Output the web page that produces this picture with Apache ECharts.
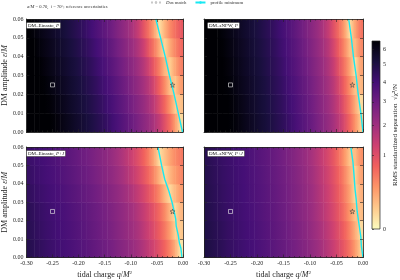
<!DOCTYPE html>
<html>
<head>
<meta charset="utf-8">
<script src="https://cdn.jsdelivr.net/npm/echarts@6/dist/echarts.min.js"></script>
<style>
  html, body { margin: 0; padding: 0; background: #fff; }
  #chart { width: 400px; height: 280px; }
</style>
</head>
<body>
<div id="chart"></div>
<script>
// cell centres of the (q, eps) grid
const qCenters = [-0.295, -0.285, -0.275, -0.265, -0.255, -0.245, -0.235, -0.225, -0.215, -0.205,
  -0.195, -0.185, -0.175, -0.165, -0.155, -0.145, -0.135, -0.125, -0.115, -0.105,
  -0.095, -0.085, -0.075, -0.065, -0.055, -0.045, -0.035, -0.025, -0.015, -0.005];
const epsCenters = [0.005, 0.015, 0.025, 0.035, 0.045, 0.055];

// RMS standardized separation, rows bottom (eps=0.005) to top (eps=0.055)
const einastoP = [
  [7.42, 7.22, 7.02, 6.82, 6.62, 6.42, 6.22, 6.02, 5.82, 5.62, 5.42, 5.22, 5.02, 4.79, 4.57, 4.33, 4.05, 3.78, 3.53, 3.26, 2.98, 2.68, 2.41, 2.13, 1.81, 1.44, 0.99, 0.63, 0.29, 0.04],
  [7.25, 7.05, 6.85, 6.65, 6.45, 6.25, 6.05, 5.85, 5.65, 5.45, 5.25, 5.05, 4.83, 4.61, 4.36, 4.09, 3.82, 3.56, 3.30, 3.02, 2.72, 2.45, 2.17, 1.86, 1.50, 1.06, 0.68, 0.34, 0.08, 0.12],
  [7.08, 6.88, 6.68, 6.48, 6.28, 6.08, 5.88, 5.68, 5.48, 5.28, 5.08, 4.86, 4.65, 4.41, 4.13, 3.86, 3.60, 3.34, 3.07, 2.77, 2.49, 2.21, 1.91, 1.58, 1.13, 0.73, 0.39, 0.12, 0.10, 0.29],
  [6.92, 6.72, 6.52, 6.32, 6.12, 5.92, 5.72, 5.52, 5.32, 5.12, 4.91, 4.68, 4.46, 4.19, 3.92, 3.65, 3.40, 3.12, 2.83, 2.55, 2.29, 1.97, 1.63, 1.22, 0.80, 0.46, 0.16, 0.07, 0.24, 0.46],
  [6.75, 6.55, 6.35, 6.15, 5.95, 5.75, 5.55, 5.35, 5.15, 4.94, 4.71, 4.49, 4.23, 3.96, 3.69, 3.43, 3.16, 2.87, 2.59, 2.30, 2.02, 1.69, 1.29, 0.86, 0.51, 0.20, 0.05, 0.21, 0.43, 0.65],
  [6.58, 6.38, 6.18, 5.98, 5.78, 5.58, 5.38, 5.18, 4.98, 4.75, 4.52, 4.27, 3.99, 3.72, 3.47, 3.20, 2.92, 2.62, 2.35, 2.07, 1.74, 1.36, 0.91, 0.56, 0.24, 0.03, 0.17, 0.40, 0.61, 0.84]
];
const snfwP = [
  [7.46, 7.26, 7.06, 6.86, 6.66, 6.46, 6.26, 6.06, 5.86, 5.66, 5.46, 5.26, 5.06, 4.83, 4.62, 4.38, 4.10, 3.82, 3.57, 3.30, 3.03, 2.74, 2.46, 2.19, 1.88, 1.52, 1.08, 0.68, 0.35, 0.09],
  [7.37, 7.17, 6.97, 6.77, 6.57, 6.37, 6.17, 5.97, 5.77, 5.57, 5.37, 5.17, 4.96, 4.73, 4.51, 4.25, 3.98, 3.71, 3.44, 3.18, 2.90, 2.61, 2.33, 2.04, 1.71, 1.33, 0.89, 0.53, 0.22, 0.04],
  [7.28, 7.08, 6.88, 6.68, 6.48, 6.28, 6.08, 5.88, 5.68, 5.48, 5.28, 5.08, 4.86, 4.63, 4.40, 4.13, 3.85, 3.60, 3.33, 3.06, 2.76, 2.48, 2.20, 1.90, 1.55, 1.12, 0.72, 0.38, 0.11, 0.16],
  [7.19, 6.99, 6.79, 6.59, 6.39, 6.19, 5.99, 5.79, 5.59, 5.39, 5.19, 4.98, 4.75, 4.53, 4.28, 4.00, 3.73, 3.46, 3.20, 2.92, 2.63, 2.36, 2.07, 1.75, 1.36, 0.92, 0.56, 0.24, 0.03, 0.25],
  [7.10, 6.90, 6.70, 6.50, 6.30, 6.10, 5.90, 5.70, 5.50, 5.30, 5.10, 4.88, 4.66, 4.43, 4.15, 3.88, 3.62, 3.36, 3.09, 2.79, 2.51, 2.23, 1.93, 1.60, 1.16, 0.76, 0.41, 0.13, 0.14, 0.40],
  [7.00, 6.80, 6.60, 6.40, 6.20, 6.00, 5.80, 5.60, 5.40, 5.20, 5.00, 4.78, 4.56, 4.31, 4.03, 3.76, 3.50, 3.24, 2.96, 2.66, 2.39, 2.11, 1.79, 1.41, 0.96, 0.60, 0.27, 0.03, 0.25, 0.55]
];
const einastoPJ = [
  [4.80, 4.65, 4.50, 4.35, 4.22, 4.12, 4.02, 3.92, 3.81, 3.70, 3.58, 3.46, 3.33, 3.20, 3.06, 2.92, 2.77, 2.62, 2.46, 2.30, 2.12, 1.92, 1.70, 1.45, 1.20, 0.95, 0.70, 0.45, 0.20, 0.02],
  [4.69, 4.54, 4.39, 4.25, 4.15, 4.05, 3.95, 3.84, 3.74, 3.62, 3.50, 3.37, 3.24, 3.10, 2.96, 2.82, 2.67, 2.51, 2.35, 2.18, 1.99, 1.78, 1.53, 1.28, 1.03, 0.78, 0.53, 0.28, 0.07, 0.09],
  [4.62, 4.47, 4.32, 4.20, 4.10, 4.00, 3.90, 3.79, 3.68, 3.56, 3.43, 3.30, 3.17, 3.03, 2.89, 2.74, 2.59, 2.42, 2.26, 2.08, 1.88, 1.65, 1.40, 1.15, 0.90, 0.65, 0.40, 0.16, 0.04, 0.15],
  [4.47, 4.32, 4.20, 4.10, 4.00, 3.90, 3.79, 3.68, 3.56, 3.43, 3.30, 3.17, 3.03, 2.89, 2.74, 2.59, 2.42, 2.26, 2.08, 1.88, 1.65, 1.40, 1.15, 0.90, 0.65, 0.40, 0.16, 0.04, 0.15, 0.29],
  [4.32, 4.20, 4.10, 4.00, 3.90, 3.79, 3.68, 3.56, 3.43, 3.30, 3.17, 3.03, 2.89, 2.74, 2.59, 2.42, 2.26, 2.08, 1.88, 1.65, 1.40, 1.15, 0.90, 0.65, 0.40, 0.16, 0.04, 0.15, 0.29, 0.42],
  [4.23, 4.13, 4.03, 3.93, 3.82, 3.71, 3.59, 3.47, 3.34, 3.21, 3.07, 2.93, 2.78, 2.64, 2.48, 2.32, 2.14, 1.94, 1.72, 1.48, 1.22, 0.98, 0.72, 0.47, 0.22, 0.03, 0.11, 0.24, 0.39, 0.51]
];
const snfwPJ = [
  [5.02, 4.87, 4.72, 4.57, 4.42, 4.30, 4.19, 4.09, 3.98, 3.88, 3.76, 3.64, 3.51, 3.38, 3.24, 3.10, 2.94, 2.78, 2.61, 2.44, 2.24, 2.05, 1.82, 1.58, 1.33, 1.08, 0.83, 0.56, 0.30, 0.08],
  [4.96, 4.81, 4.66, 4.51, 4.37, 4.26, 4.15, 4.05, 3.94, 3.83, 3.71, 3.59, 3.46, 3.33, 3.19, 3.04, 2.87, 2.71, 2.54, 2.36, 2.16, 1.96, 1.73, 1.48, 1.23, 0.98, 0.73, 0.45, 0.20, 0.04],
  [4.88, 4.73, 4.58, 4.43, 4.31, 4.20, 4.10, 4.00, 3.89, 3.77, 3.65, 3.52, 3.39, 3.26, 3.11, 2.95, 2.79, 2.63, 2.45, 2.26, 2.06, 1.84, 1.60, 1.35, 1.10, 0.85, 0.58, 0.32, 0.10, 0.13],
  [4.84, 4.69, 4.54, 4.39, 4.27, 4.17, 4.07, 3.96, 3.85, 3.73, 3.61, 3.48, 3.35, 3.21, 3.07, 2.91, 2.74, 2.58, 2.40, 2.20, 2.00, 1.77, 1.53, 1.28, 1.03, 0.78, 0.50, 0.25, 0.04, 0.18],
  [4.79, 4.64, 4.49, 4.35, 4.24, 4.14, 4.04, 3.93, 3.82, 3.70, 3.57, 3.44, 3.31, 3.17, 3.02, 2.86, 2.70, 2.52, 2.34, 2.14, 1.93, 1.70, 1.45, 1.20, 0.95, 0.70, 0.43, 0.18, 0.06, 0.25],
  [4.73, 4.58, 4.43, 4.31, 4.20, 4.10, 4.00, 3.89, 3.77, 3.65, 3.52, 3.39, 3.26, 3.11, 2.95, 2.79, 2.63, 2.45, 2.26, 2.06, 1.84, 1.60, 1.35, 1.10, 0.85, 0.58, 0.32, 0.10, 0.13, 0.35]
];

// profile minimum traces, [q, eps]
const minEinastoP = [[-0.001, 0], [-0.009, 0.01], [-0.017, 0.02], [-0.026, 0.03], [-0.034, 0.04], [-0.043, 0.05], [-0.052, 0.06]];
const minSnfwP = [[0.000, 0], [-0.004, 0.01], [-0.009, 0.02], [-0.013, 0.03], [-0.018, 0.04], [-0.022, 0.05], [-0.027, 0.06]];
const minEinastoPJ = [[-0.002, 0], [-0.004, 0.005], [-0.007, 0.008], [-0.009, 0.012], [-0.013, 0.017], [-0.014, 0.021],
  [-0.017, 0.025], [-0.021, 0.03], [-0.027, 0.036], [-0.035, 0.0425], [-0.041, 0.05], [-0.048, 0.06]];
const minSnfwPJ = [[0.000, 0], [-0.003, 0.006], [-0.004, 0.011], [-0.007, 0.017], [-0.011, 0.025], [-0.013, 0.032],
  [-0.015, 0.037], [-0.017, 0.045], [-0.019, 0.052], [-0.023, 0.06]];

const truthPoint = [-0.02, 0.025];
const refPoint = [-0.25, 0.025];

const colorTicks = [0, 1, 2, 3, 4, 5, 6];
const vMax = 6.55;
const MAGMA = ['#000004', '#180f3d', '#440f76', '#721f81', '#9e2f7f', '#cd4071', '#f1605d', '#fd9668', '#feca8d', '#fcfdbf'];

const FONT = 'Liberation Serif';
const INK = '#222';
const CYAN = '#18e8f2';
const sMax = Math.sqrt(vMax);
const MAGMA_R = MAGMA.slice().reverse();
const STAR = 'path://M50,0 L61,35 L98,35 L68,57 L79,91 L50,70 L21,91 L32,57 L2,35 L39,35 Z';

// sqrt (power 0.5) normalisation, like the reference colour bar
function colorOf(v) {
  return echarts.color.lerp(Math.min(Math.sqrt(Math.max(v, 0)) / sMax, 1), MAGMA_R);
}

const panels = [
  { grid: { left: 23, top: 19, width: 160, height: 113 }, field: einastoP, minLine: minEinastoP, label: 'DM–Einasto, {i|P}' },
  { grid: { left: 204, top: 19, width: 159, height: 113 }, field: snfwP, minLine: minSnfwP, label: 'DM–sNFW, {i|P}' },
  { grid: { left: 23, top: 147, width: 160, height: 114 }, field: einastoPJ, minLine: minEinastoPJ, label: 'DM–Einasto, {i|P}+{i|J}' },
  { grid: { left: 204, top: 147, width: 159, height: 114 }, field: snfwPJ, minLine: minSnfwPJ, label: 'DM–sNFW, {i|P}+{i|J}' }
];

function cells(field) {
  const out = [];
  field.forEach((row, r) => {
    row.forEach((v, j) => out.push([qCenters[j], epsCenters[r], v, r, j]));
  });
  return out;
}

// each strip runs from one cell centre to the next, shaded between the two cell colours
function cellRenderer(field) {
  const last = qCenters.length - 1;
  return (params, api) => {
    const r = api.value(3);
    const j = api.value(4);
    const row = field[r];
    const e = epsCenters[r];
    const qL = j === 0 ? -0.3 : qCenters[j];
    const qR = j === last ? 0 : qCenters[j + 1];
    const p0 = api.coord([qL, e + 0.005]);
    const p1 = api.coord([qR, e - 0.005]);
    const c0 = colorOf(row[j]);
    const c1 = j === last ? c0 : colorOf(row[j + 1]);
    const g0 = api.coord([qCenters[j], e])[0];
    const g1 = j === last ? g0 + 1 : api.coord([qCenters[j + 1], e])[0];
    return {
      type: 'rect',
      shape: { x: p0[0], y: p0[1], width: p1[0] - p0[0] + 0.5, height: p1[1] - p0[1] + 0.5 },
      style: {
        fill: {
          type: 'linear', global: true, x: g0, y: 0, x2: g1, y2: 0,
          colorStops: [{ offset: 0, color: c0 }, { offset: 1, color: c1 }]
        }
      }
    };
  };
}

const tickStyle = { color: INK, width: 0.6 };
const lineStyle = { color: INK, width: 0.8 };

const grids = [];
const xAxes = [];
const yAxes = [];
const heatSeries = [];
const overlaySeries = [];
const titles = [];

panels.forEach((p, i) => {
  grids.push(p.grid);
  const bottomRow = i >= 2;
  const leftCol = i % 2 === 0;
  const xBase = {
    type: 'value', gridIndex: i, min: -0.3, max: 0, interval: 0.05, z: 5,
    axisLine: { show: true, onZero: false, lineStyle },
    axisTick: { show: true, inside: true, length: 3, lineStyle: tickStyle },
    minorTick: { show: true, splitNumber: 5, length: 1.5, lineStyle: tickStyle },
    splitLine: { show: false }
  };
  xAxes.push(Object.assign({}, xBase, {
    position: 'bottom',
    axisLabel: {
      show: bottomRow, fontSize: 6, margin: 3, color: INK, fontFamily: FONT,
      showMinLabel: true, showMaxLabel: true,
      formatter: (v) => v.toFixed(2)
    },
    name: bottomRow ? 'tidal charge {i|q}/{i|M}{s|2}' : '',
    nameLocation: 'middle', nameGap: 13,
    nameTextStyle: {
      fontSize: 8, color: INK, fontFamily: FONT,
      rich: {
        i: { fontSize: 8, fontStyle: 'italic', fontFamily: FONT, color: INK },
        s: { fontSize: 5, fontFamily: FONT, color: INK, verticalAlign: 'top', padding: [0, 0, 4, 0] }
      }
    }
  }));
  xAxes.push(Object.assign({}, xBase, { position: 'top', axisLabel: { show: false } }));

  const yBase = {
    type: 'value', gridIndex: i, min: 0, max: 0.06, interval: 0.01, z: 5,
    axisLine: { show: true, onZero: false, lineStyle },
    axisTick: { show: true, inside: true, length: 3, lineStyle: tickStyle },
    splitLine: { show: false }
  };
  yAxes.push(Object.assign({}, yBase, {
    position: 'left',
    axisLabel: { show: leftCol, fontSize: 6, margin: 3, color: INK, fontFamily: FONT, formatter: (v) => v.toFixed(2) },
    name: leftCol ? 'DM amplitude {i|ε}/{i|M}' : '',
    nameLocation: 'middle', nameGap: 15, nameRotate: 90,
    nameTextStyle: {
      fontSize: 8, color: INK, fontFamily: FONT,
      rich: { i: { fontSize: 8, fontStyle: 'italic', fontFamily: FONT, color: INK } }
    }
  }));
  yAxes.push(Object.assign({}, yBase, { position: 'right', axisLabel: { show: false } }));

  heatSeries.push({
    type: 'custom', name: 'field' + i, coordinateSystem: 'cartesian2d',
    xAxisIndex: 2 * i, yAxisIndex: 2 * i, z: 1, silent: true,
    encode: { x: 0, y: 1 },
    renderItem: cellRenderer(p.field),
    data: cells(p.field)
  });

  overlaySeries.push({
    type: 'line', name: 'profile minimum', xAxisIndex: 2 * i, yAxisIndex: 2 * i, z: 3,
    data: p.minLine, symbol: 'none', lineStyle: { color: CYAN, width: 1.4 }, itemStyle: { color: CYAN },
    silent: true
  });
  overlaySeries.push({
    type: 'scatter', name: 'ref', xAxisIndex: 2 * i, yAxisIndex: 2 * i, z: 4,
    data: [refPoint], symbol: 'rect', symbolSize: 4,
    itemStyle: { color: 'rgba(0,0,0,0)', borderColor: '#e6e6e6', borderWidth: 0.8 }
  });
  overlaySeries.push({
    type: 'scatter', name: 'truth', xAxisIndex: 2 * i, yAxisIndex: 2 * i, z: 4,
    data: [truthPoint], symbol: STAR, symbolSize: 5,
    itemStyle: { color: 'rgba(0,0,0,0)', borderColor: '#444', borderWidth: 0.7 }
  });

  titles.push({
    text: p.label,
    left: p.grid.left + 3, top: p.grid.top + 3,
    padding: [1, 2, 1, 2],
    backgroundColor: '#fff', borderColor: '#444', borderWidth: 0.6, borderRadius: 1,
    textStyle: {
      fontSize: 5, fontWeight: 'normal', color: '#111', fontFamily: FONT,
      rich: { i: { fontSize: 5, fontStyle: 'italic', fontFamily: FONT, color: '#111' } }
    }
  });
});

// colour bar (sqrt-scaled like the reference)
grids.push({ left: 372, top: 41, width: 8, height: 188 });
xAxes.push({ type: 'value', gridIndex: 4, min: 0, max: 1, show: false });
const cbTicks = colorTicks.map((t) => Math.sqrt(t));
yAxes.push({
  type: 'value', gridIndex: 4, min: 0, max: sMax, position: 'right', z: 5,
  axisLine: { show: false },
  axisTick: { show: true, length: 2, customValues: cbTicks, lineStyle: tickStyle },
  axisLabel: {
    fontSize: 6, margin: 3, color: INK, fontFamily: FONT, customValues: cbTicks,
    formatter: (v) => String(Math.round(v * v))
  },
  splitLine: { show: false },
  name: 'RMS standardized separation  √χ²/N',
  nameLocation: 'middle', nameGap: 12, nameRotate: 90,
  nameTextStyle: { fontSize: 7, color: INK, fontFamily: FONT }
});
const colorbarSeries = {
  type: 'custom', name: 'colorbar', coordinateSystem: 'cartesian2d',
  xAxisIndex: 8, yAxisIndex: 8, silent: true,
  data: [[0, 0]],
  renderItem: (params, api) => {
    const a = api.coord([0, sMax]);
    const b = api.coord([1, 0]);
    return {
      type: 'rect',
      shape: { x: a[0], y: a[1], width: b[0] - a[0], height: b[1] - a[1] },
      style: {
        fill: {
          type: 'linear', x: 0, y: 0, x2: 0, y2: 1,
          colorStops: MAGMA.map((c, k) => ({ offset: k / (MAGMA.length - 1), color: c }))
        },
        stroke: INK, lineWidth: 0.7
      }
    };
  }
};

// legend-only dotted series
const dsmSeries = {
  type: 'line', name: 'Dsm', xAxisIndex: 0, yAxisIndex: 0, data: [],
  symbol: 'none', lineStyle: { color: '#c8c8c8', width: 1, type: 'dotted' }, itemStyle: { color: '#c8c8c8' }
};

titles.unshift({
  text: '{i|a}/{i|M} = 0.70,  {i|i} = 70°; reference uncertainties',
  left: 27, top: 4, padding: 0,
  textStyle: {
    fontSize: 4.6, fontWeight: 'normal', color: '#333', fontFamily: FONT,
    rich: { i: { fontSize: 4.6, fontStyle: 'italic', fontFamily: FONT, color: '#333' } }
  }
});

const option = {
  animation: false,
  backgroundColor: '#fff',
  title: titles,
  legend: {
    data: ['Dsm', 'profile minimum'],
    left: 150, top: 0, padding: 0,
    itemWidth: 10, itemHeight: 3, itemGap: 8,
    formatter: (name) => (name === 'Dsm' ? '{t|D}{s|sm} match' : name),
    textStyle: {
      fontSize: 4.8, color: '#333', fontFamily: FONT,
      rich: {
        t: { fontSize: 4.8, fontStyle: 'italic', fontFamily: FONT, color: '#333' },
        s: { fontSize: 3.5, fontFamily: FONT, color: '#333', verticalAlign: 'bottom' }
      }
    }
  },
  grid: grids,
  xAxis: xAxes,
  yAxis: yAxes,
  series: heatSeries.concat(overlaySeries, [colorbarSeries, dsmSeries])
};

const chart = echarts.init(document.getElementById('chart'));
chart.setOption(option);
</script>
</body>
</html>
